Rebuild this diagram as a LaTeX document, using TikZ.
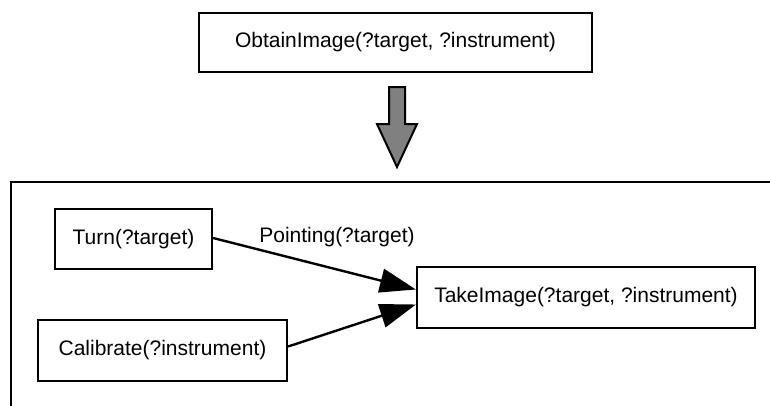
\documentclass[tikz,border=0pt]{standalone}
\usepackage{fontspec}
\setmainfont{Liberation Sans}
\usetikzlibrary{arrows.meta}
\begin{document}
\begin{tikzpicture}[x=1pt,y=-1pt,
  box/.style={draw=black,line width=2.2pt,fill=white,inner sep=0pt,font=\fontsize{21}{25}\selectfont},
  conn/.style={line width=2.4pt,-{Triangle[length=36pt,width=24pt]}}]
\useasboundingbox (0,0) rectangle (770,405);
\fill[white] (0,0) rectangle (770,405);
% outer frame (open at bottom and right)
\draw[line width=2.4pt] (775,182) -- (11,182) -- (11,410);
\node[box,minimum width=393pt,minimum height=59pt] (top) at (395.5,42.5) {ObtainImage(?target, ?instrument)};
\node[box,minimum width=157pt,minimum height=60pt] (turn) at (133.5,239) {Turn(?target)};
\node[box,minimum width=249pt,minimum height=61pt] (calib) at (162.5,350.5) {Calibrate(?instrument)};
\node[box,minimum width=338pt,minimum height=61pt] (take) at (586,297.5) {TakeImage(?target, ?instrument)};
% block arrow
\draw[line width=2pt,fill=black!50,line join=miter]
  (389,87) -- (405,87) -- (405,124) -- (417,124) -- (397,167) -- (377,124) -- (389,124) -- cycle;
\coordinate (t1) at ([yshift=8pt]take.west);
\coordinate (t2) at ([yshift=-7pt]take.west);
\draw[conn] ([yshift=1pt]turn.east) -- (t1);
\draw[conn] ([yshift=4pt]calib.east) -- (t2);
\node[anchor=base,font=\fontsize{21}{25}\selectfont] (lbl) at (337,242) {Pointing(?target)};
\end{tikzpicture}
\end{document}
